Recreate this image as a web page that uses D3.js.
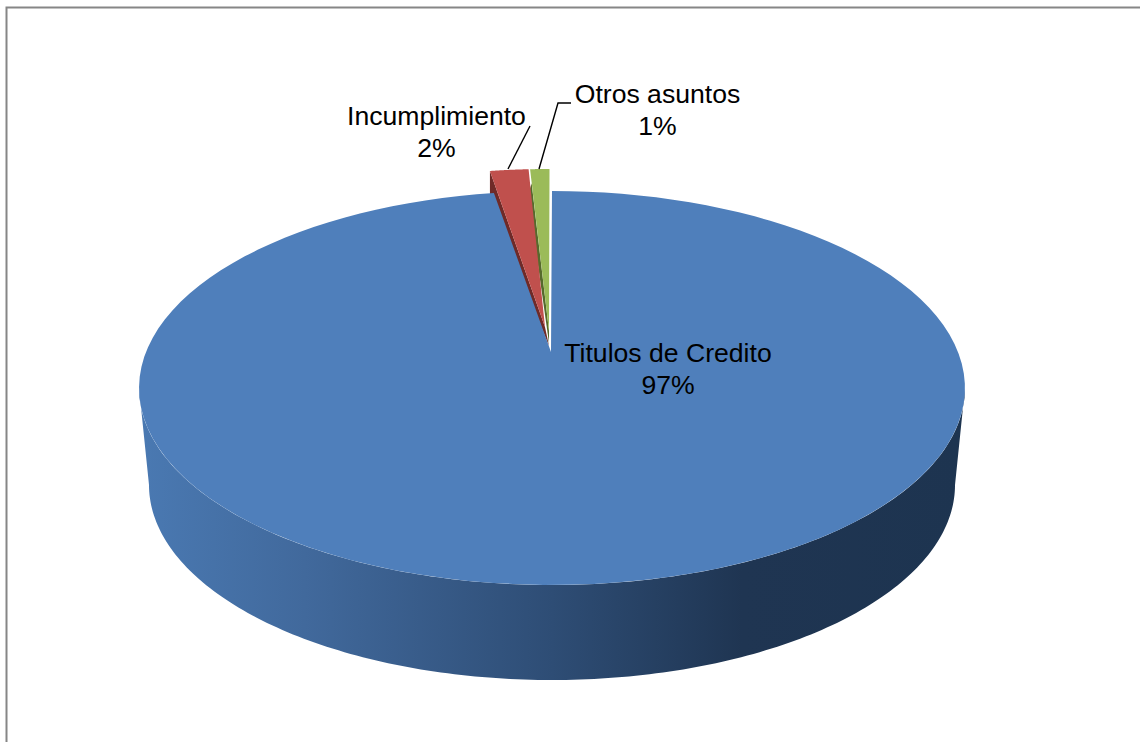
<!DOCTYPE html>
<html><head><meta charset="utf-8">
<script src="https://cdn.jsdelivr.net/npm/d3@7/dist/d3.min.js"></script>
<style>html,body{margin:0;padding:0;background:#fff}svg{display:block}text{font-family:"Liberation Sans",Arial,sans-serif;font-size:26.6px;fill:#000}</style>
</head><body><svg id="c" width="1140" height="742"></svg>
<script>
const categories = ["Titulos de Credito","Incumplimiento","Otros asuntos"];
const values = [97.3,1.8,0.9];
const sliceColors = ["#4f7fbb","#c0504d","#9bbb59"];
const wallColors = ["#4f81bd","#6f2a28","#566a2c"];

const svg = d3.select("#c");
svg.append("path").attr("d","M6.5,742V7.5H1140").attr("fill","none").attr("stroke","#868686").attr("stroke-width",2);

// perspective projection of the unit disc
const cx=552,k=406,a=126.1,b=352,c=-0.1827;
const proj=(u,v)=>{const w=1+c*v;return [cx+k*u/w,(a*v+b)/w];};
const pie=d3.pie().sort(null).value(d=>d)(values);
const pt=(t)=>proj(Math.sin(t),-Math.cos(t));
const arcPts=(t0,t1)=>d3.range(0,121).map(i=>pt(t0+(t1-t0)*i/120));
const line=d3.line().curve(d3.curveLinear);

// side wall
const defs=svg.append("defs");
const grad=defs.append("linearGradient").attr("id","wall").attr("gradientUnits","userSpaceOnUse").attr("x1",140).attr("x2",965).attr("y1",0).attr("y2",0);
[[0,"#4a79b2"],[0.2,"#41699c"],[0.5,"#2e4d75"],[0.73,"#1f3552"],[1,"#1d3450"]].forEach(s=>grad.append("stop").attr("offset",s[0]).attr("stop-color",s[1]));
const ellPts=(x0,y0,rx,ry,f,t)=>d3.range(0,181).map(i=>{const q=f+(t-f)*i/180;return [x0+rx*Math.cos(q),y0+ry*Math.sin(q)];});
const hull=[...ellPts(552,388,413,197,Math.PI,0),...ellPts(552,485,403,195,0,Math.PI)];
svg.append("path").attr("d",line(hull)+"Z").attr("fill","url(#wall)");

// exploded slices: offsets, face tips and wall tips
const shift=[null,[-4,-22],[-2.5,-22]];
const faceTip=[null,[545,327],[549,331]];
const wallTip=[null,[549,346],[549,343]];
const wallStart=[null,[[0,0],[0,30]],[[1.5,14],[-2,26]]];
const outers=[1,2].map(i=>arcPts(pie[i].startAngle,pie[i].endAngle).map(q=>[q[0]+shift[i][0],q[1]+shift[i][1]]));

// walls of exploded slices sit under the main slice and under their faces
[1,2].forEach(i=>{
  const e=outers[i-1][0];
  const [s0,s1]=wallStart[i];
  svg.append("path").attr("d",line([wallTip[i],faceTip[i],[e[0]+s0[0],e[1]+s0[1]],[e[0]+s1[0],e[1]+s1[1]]])+"Z").attr("fill",wallColors[i]);
});

// main slice
const p0=pie[0];
svg.append("path").attr("d",line([[551,352],...arcPts(p0.startAngle,p0.endAngle)])+"Z").attr("fill",sliceColors[0]);

// faces on top
[1,2].forEach(i=>{
  svg.append("path").attr("d",line([faceTip[i],...outers[i-1]])+"Z").attr("fill",sliceColors[i]);
});

// leaders
const leaders=[[[508,169],[530,126]],[[539,169],[558,103],[571,103]]];
leaders.forEach(l=>svg.append("path").attr("d",line(l)).attr("fill","none").attr("stroke","#000").attr("stroke-width",1.4));

// labels
const labels=[[668,[362,394]],[436.5,[125,157]],[657.5,[103,135]]];
labels.forEach((l,i)=>{
  const t=svg.append("text").attr("text-anchor","middle");
  t.append("tspan").attr("x",l[0]).attr("y",l[1][0]).text(categories[i]);
  t.append("tspan").attr("x",l[0]).attr("y",l[1][1]).text(Math.round(values[i])+"%");
});
</script></body></html>
